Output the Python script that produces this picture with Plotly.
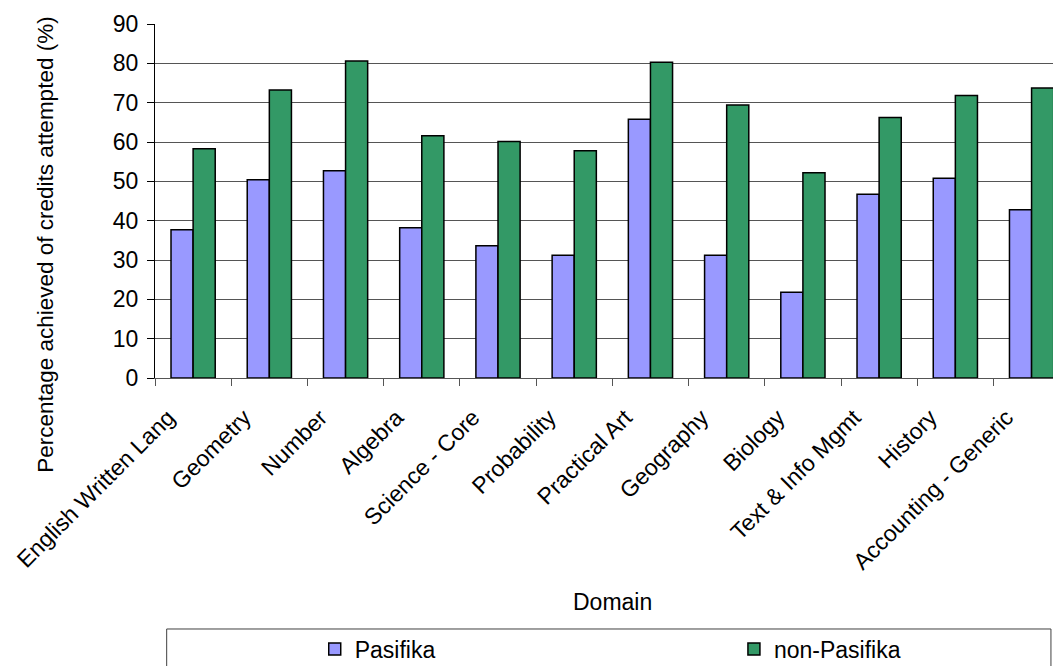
import plotly.graph_objects as go

categories = ["English Written Lang", "Geometry", "Number", "Algebra", "Science - Core",
              "Probability", "Practical Art", "Geography", "Biology", "Text & Info Mgmt",
              "History", "Accounting - Generic"]
pasifika = [37.7, 50.4, 52.7, 38.2, 33.6, 31.2, 65.8, 31.2, 21.8, 46.7, 50.8, 42.8]
non_pasifika = [58.3, 73.2, 80.6, 61.6, 60.1, 57.8, 80.3, 69.4, 52.2, 66.2, 71.8, 73.7]
y_ticks = [0, 10, 20, 30, 40, 50, 60, 70, 80, 90]

FONT = "Liberation Sans, Arial, sans-serif"

fig = go.Figure()
fig.add_trace(go.Bar(x=categories, y=pasifika, name="Pasifika",
                     marker=dict(color="#9999FF", line=dict(color="black", width=1.5)),
                     legend="legend", showlegend=True))
fig.add_trace(go.Bar(x=categories, y=non_pasifika, name="non-Pasifika",
                     marker=dict(color="#339966", line=dict(color="black", width=1.5)),
                     legend="legend2", showlegend=True))

# page body has an 8px margin, so the figure is sized to fill the rest of the window
fig.update_layout(
    width=1053, height=658,
    margin=dict(l=147, r=0, t=16, b=288, autoexpand=False),
    showlegend=True,
    paper_bgcolor="white", plot_bgcolor="white",
    font=dict(family=FONT, size=23, color="black"),
    barmode="group", bargap=0.42, bargroupgap=0,
    xaxis=dict(
        type="category", range=[-0.5, 11.386], tickangle=-45, automargin=False,
        showline=True, linecolor="#555", linewidth=1,
        ticks="outside", tickson="boundaries", ticklen=7, tickcolor="#555",
        showgrid=False, tickfont=dict(size=23),
        ticklabelshift=-25, ticklabelstandoff=16,
    ),
    yaxis=dict(
        range=[0, 90], tickvals=y_ticks, ticktext=[str(v) for v in y_ticks],
        automargin=False,
        showline=True, linecolor="black", linewidth=1,
        ticks="outside", ticklen=7, tickcolor="black",
        showgrid=True, gridcolor="#555", gridwidth=1, zeroline=False,
        tickfont=dict(size=23), ticklabelstandoff=4,
    ),
    legend=dict(orientation="h", x=0.1763, xanchor="left", y=-0.766, yanchor="middle",
                font=dict(size=23), bgcolor="rgba(0,0,0,0)", borderwidth=0),
    legend2=dict(orientation="h", x=0.639, xanchor="left", y=-0.766, yanchor="middle",
                 font=dict(size=23), bgcolor="rgba(0,0,0,0)", borderwidth=0),
    shapes=[dict(type="rect", xref="paper", yref="paper",
                 x0=0.0129, x1=0.9889, y0=-0.709, y1=-0.90,
                 line=dict(color="#404040", width=1), fillcolor="rgba(0,0,0,0)",
                 layer="below")],
    annotations=[
        dict(text="Percentage achieved of credits attempted (%)", textangle=-90,
             xref="paper", yref="paper", x=-0.1207, y=0.378,
             xanchor="center", yanchor="middle", showarrow=False,
             font=dict(size=22.5)),
        dict(text="Domain", xref="paper", yref="paper", x=0.5054, y=-0.633,
             xanchor="center", yanchor="middle", showarrow=False,
             font=dict(size=23)),
    ],
)

fig.write_html("out.html")
